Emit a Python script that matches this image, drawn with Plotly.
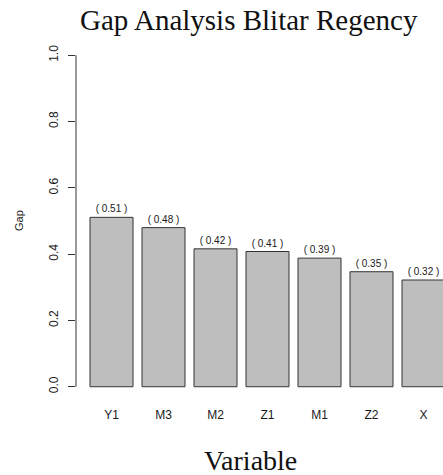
import plotly.graph_objects as go

categories = ["Y1", "M3", "M2", "Z1", "M1", "Z2", "X"]
gap_values = [0.511, 0.480, 0.416, 0.408, 0.388, 0.347, 0.322]
y_ticks = [0.0, 0.2, 0.4, 0.6, 0.8, 1.0]

W, H = 443, 475
L, R, T, B = 76, 0, 42, 75
plot_w = W - L - R
plot_h = H - T - B

def px_to_paper_x(px):
    return (px - L) / plot_w

def px_to_paper_y(py):
    return (H - B - py) / plot_h

fig = go.Figure(go.Bar(
    x=categories,
    y=gap_values,
    marker=dict(color="#BEBEBE", line=dict(color="#333333", width=1)),
    texttemplate="( %{y:.2f} )",
    textposition="outside",
    textfont=dict(family="Liberation Sans, Arial, sans-serif", size=10, color="#1a1a1a"),
    constraintext="none",
    cliponaxis=False,
    hoverinfo="skip",
))

fig.update_layout(
    width=W, height=H,
    margin=dict(l=L, r=R, t=T, b=B, pad=0),
    paper_bgcolor="white", plot_bgcolor="white",
    bargap=0.173,
    showlegend=False,
    xaxis=dict(
        range=[-0.683, 6.375],
        showgrid=False, zeroline=False, showline=False,
        ticks="", ticklabelstandoff=6,
        tickfont=dict(family="Liberation Sans, Arial, sans-serif", size=12, color="#1a1a1a"),
        fixedrange=True,
    ),
    yaxis=dict(
        range=[-0.04, 1.04],
        tickvals=y_ticks, tickformat=".1f",
        showgrid=False, zeroline=False, showline=False,
        ticks="outside", ticklen=7, tickwidth=1, tickcolor="#333333",
        tickangle=-90, ticklabelstandoff=5,
        tickfont=dict(family="Liberation Sans, Arial, sans-serif", size=12, color="#1a1a1a"),
        fixedrange=True,
    ),
    shapes=[dict(type="line", xref="paper", yref="y", x0=0, x1=0, y0=0, y1=1,
                 line=dict(color="#333333", width=1))],
    annotations=[
        dict(text="Gap Analysis Blitar Regency", xref="paper", yref="paper",
             x=px_to_paper_x(249), y=px_to_paper_y(20.5), xanchor="center", yanchor="middle",
             showarrow=False, font=dict(family="Liberation Serif, serif", size=29, color="#111111")),
        dict(text="Variable", xref="paper", yref="paper",
             x=px_to_paper_x(250), y=px_to_paper_y(460.5), xanchor="center", yanchor="middle",
             showarrow=False, font=dict(family="Liberation Serif, serif", size=28, color="#111111")),
        dict(text="Gap", xref="paper", yref="paper",
             x=px_to_paper_x(19), y=px_to_paper_y(221), xanchor="center", yanchor="middle",
             textangle=-90, showarrow=False,
             font=dict(family="Liberation Sans, Arial, sans-serif", size=11, color="#1a1a1a")),
    ],
)

fig.write_html(
    "out.html",
    config={"displayModeBar": False},
    post_script="document.body.style.margin='0px';document.body.style.overflow='hidden';",
)
